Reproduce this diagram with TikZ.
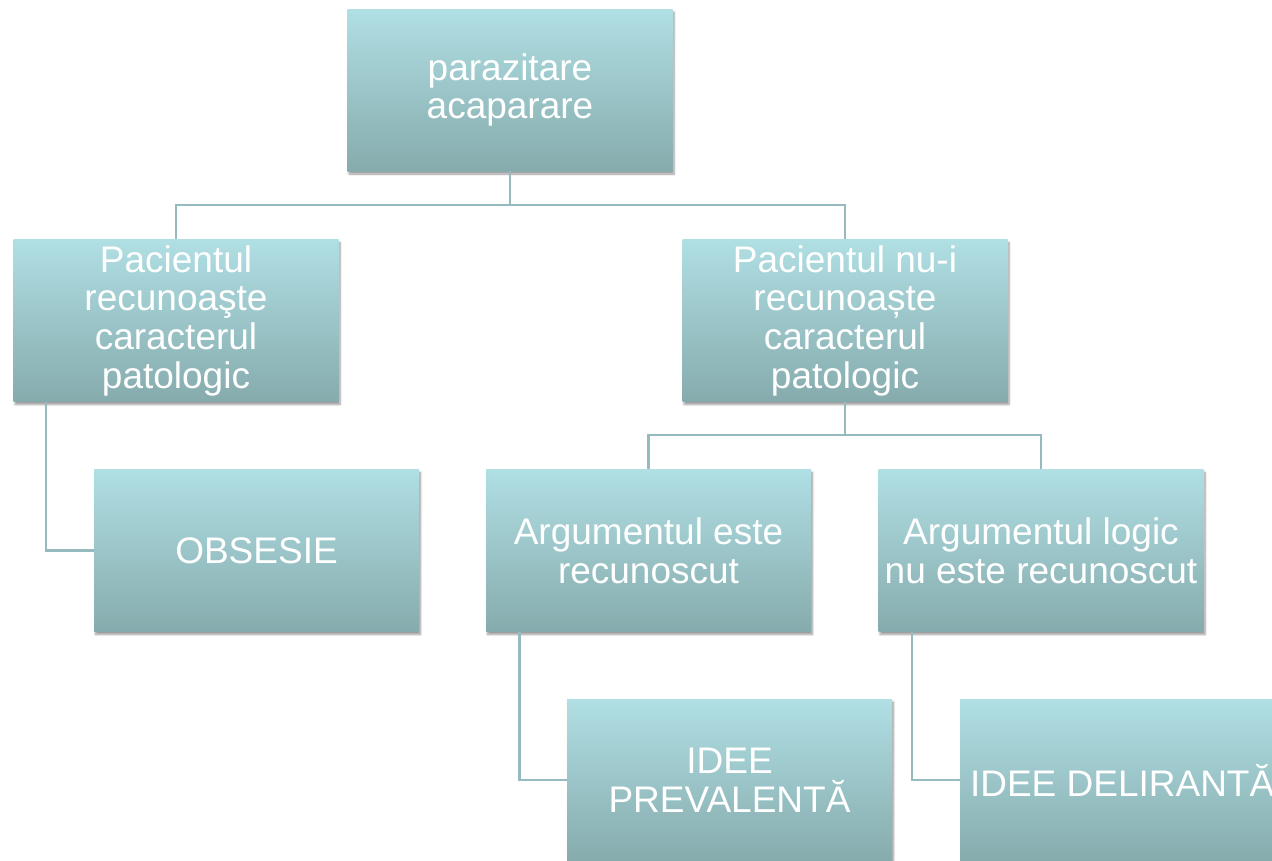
\documentclass[tikz,border=0pt]{standalone}
\usepackage{fontspec}
\setmainfont{Liberation Sans}
\usetikzlibrary{shadows.blur}
\definecolor{boxtop}{RGB}{176,223,228}
\definecolor{boxbottom}{RGB}{134,171,173}
\definecolor{linkline}{RGB}{150,186,190}

\tikzset{
  boxtext/.style={text=white, align=center, font=\fontsize{37}{38.7}\selectfont},
  tbox/.style={boxtext, minimum width=325pt, minimum height=162pt, inner sep=0pt,
    top color=boxtop, bottom color=boxbottom,
    blur shadow={shadow blur steps=6, shadow xshift=1.5pt, shadow yshift=-3pt, shadow opacity=40}},
  link/.style={linkline, line width=2.5pt}
}

\begin{document}
\begin{tikzpicture}[x=1pt,y=-1pt]
  \useasboundingbox (0,0) rectangle (1272,860);
  \clip (0,0) rectangle (1272,860);
  % boxes
  \node[tbox] (root) at (510,90) {parazitare\\acaparare};
  \node[tbox] (recun) at (176,320.5) {Pacientul\\recunoaşte\\caracterul\\patologic};
  \node[tbox] (nerecun) at (845,320.5) {Pacientul nu-i\\recunoaște\\caracterul\\patologic};
  \node[tbox] (obsesie) at (256.5,550.5) {OBSESIE};
  \node[tbox] (argda) at (648.5,550.5) {Argumentul este\\recunoscut};
  \node[tbox] (argnu) at (1041,550.5) {Argumentul logic\\nu este recunoscut};
  \node[tbox] (preval) at (729.5,780) {IDEE\\PREVALENTĂ};
  \node[tbox] (delir) at (1122.5,780) {};
  \node[boxtext, anchor=west, inner sep=0pt] (delirtext) at ([xshift=10pt]delir.west) {IDEE DELIRANTĂ};
  % connectors
  \coordinate (bustop) at (510,205);
  \coordinate (busmid) at (845,435);
  \draw[link] (root.south) -- (bustop) -| (recun.north);
  \draw[link] (bustop) -| (nerecun.north);
  \draw[link] (nerecun.south) -- (busmid) -| (argda.north);
  \draw[link] (busmid) -| (argnu.north);
  \draw[link] ([xshift=-130pt]recun.south) |- (obsesie.west);
  \draw[link] ([xshift=-129pt]argda.south) |- (preval.west);
  \draw[link] ([xshift=-129pt]argnu.south) |- (delir.west);
\end{tikzpicture}
\end{document}
